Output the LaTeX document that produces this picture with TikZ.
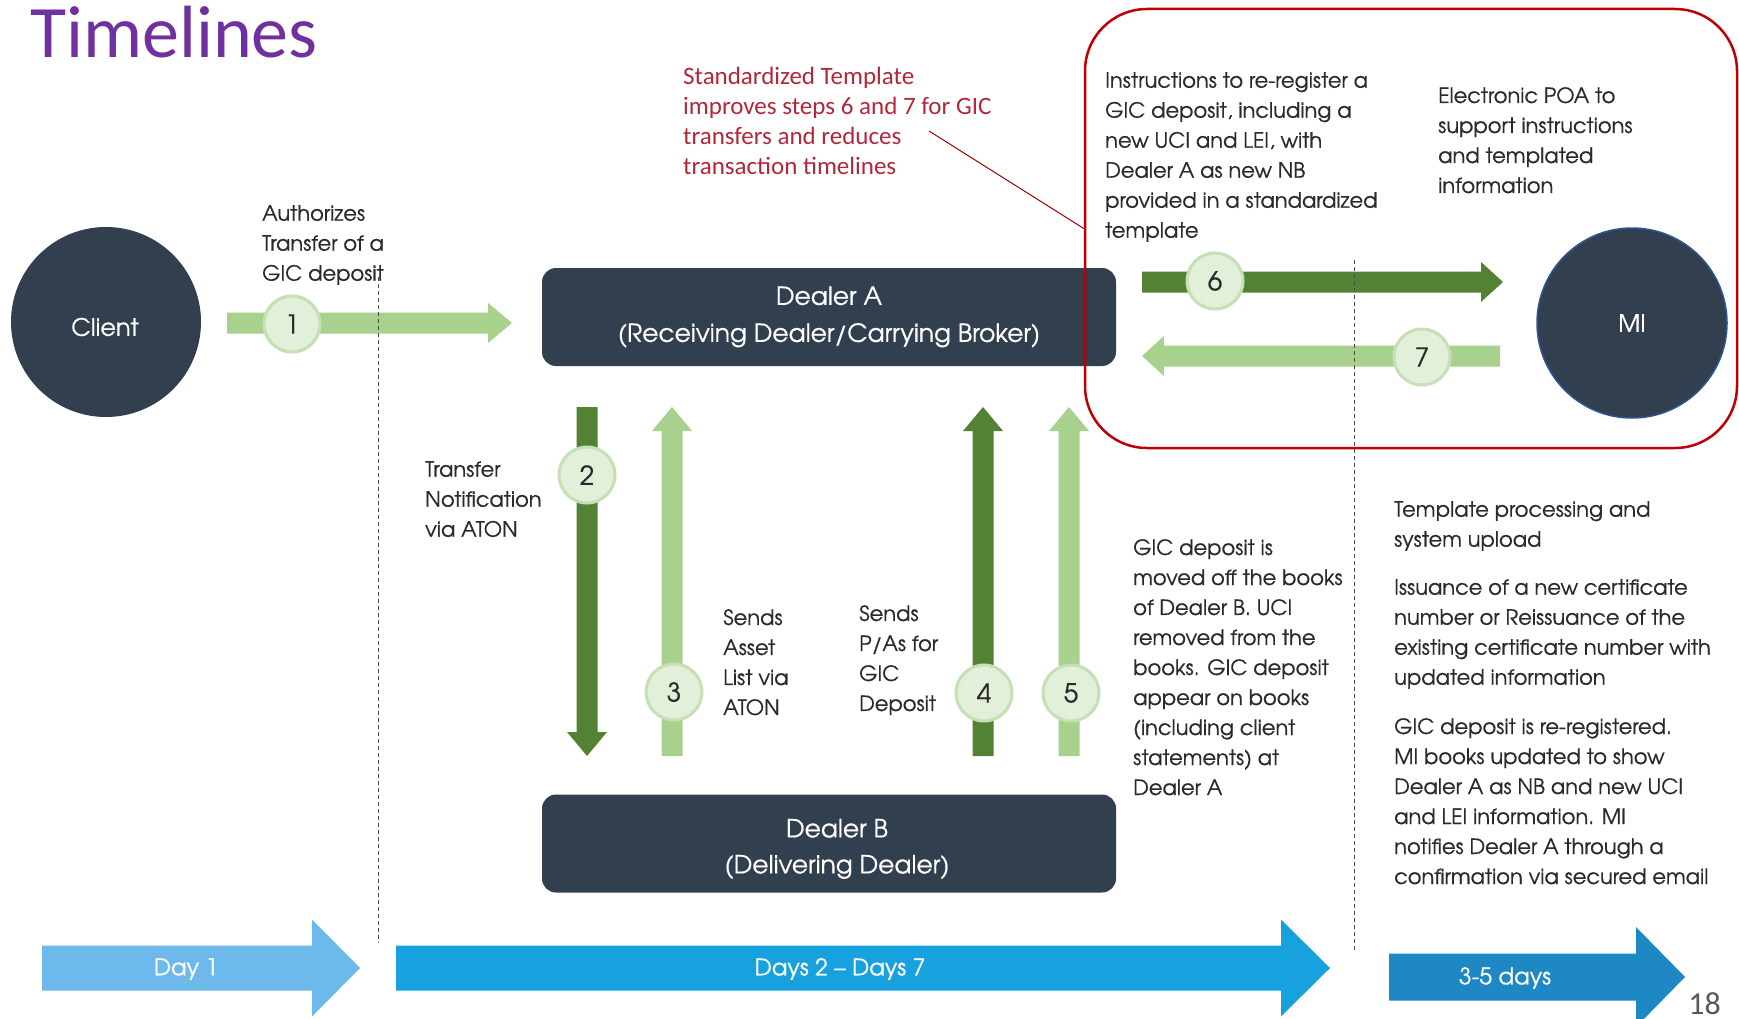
\documentclass[tikz,border=0pt]{standalone}
\usepackage{fontspec}
\setmainfont{texgyreadventor-regular.otf}[FakeBold=0.5]
\newfontfamily\calib{Carlito}
\usetikzlibrary{calc}
\definecolor{navy}{HTML}{323F4F}
\definecolor{dgreen}{HTML}{548235}
\definecolor{lgreen}{HTML}{A9D18E}
\definecolor{cfill}{HTML}{E2F0D9}
\definecolor{cline}{HTML}{C5E0B4}
\definecolor{redline}{HTML}{C00000}
\definecolor{redtext}{HTML}{B2283A}
\definecolor{purp}{HTML}{7030A0}
\definecolor{txt}{HTML}{2A2A2A}
\definecolor{blueA}{HTML}{6DB9EC}
\definecolor{blueB}{HTML}{17A2DF}
\definecolor{blueC}{HTML}{1E88C4}
\definecolor{miedge}{HTML}{2F5597}
\newcommand\HArrow[6]{\fill[#6] ($(#1)+(0,-#3)$) -- ($(#2)+(#5,-#3)$) -- ($(#2)+(#5,-#4)$) -- (#2) -- ($(#2)+(#5,#4)$) -- ($(#2)+(#5,#3)$) -- ($(#1)+(0,#3)$) -- cycle;}
\newcommand\VArrow[6]{\fill[#6] ($(#1)+(-#3,0)$) -- ($(#2)+(-#3,#5)$) -- ($(#2)+(-#4,#5)$) -- (#2) -- ($(#2)+(#4,#5)$) -- ($(#2)+(#3,#5)$) -- ($(#1)+(#3,0)$) -- cycle;}
\begin{document}
\begin{tikzpicture}[x=1pt,y=-1pt,
  body/.style={align=left, anchor=north west, inner sep=0pt, text=txt, font=\fontsize{21}{30}\selectfont},
  numc/.style={circle, fill=cfill, draw=cline, line width=3pt, minimum size=56pt, inner sep=0pt, font=\fontsize{26}{26}\selectfont, text=txt},
  dealer/.style={rectangle, rounded corners=14pt, fill=navy, text=white, align=center, minimum width=574pt, minimum height=98pt},
  party/.style={circle, fill=navy, text=white, minimum size=190pt, inner sep=0pt, font=\fontsize{24}{24}\selectfont},
  dline/.style={draw=black!70, line width=1pt, dash pattern=on 4pt off 3pt},
  daytext/.style={text=white, font=\fontsize{23}{23}\selectfont}
]
\useasboundingbox (0,0) rectangle (1739,1019);
\fill[white] (0,0) rectangle (1739,1019);

% title and note
\node[anchor=base west, inner sep=0pt, text=purp, font=\calib\fontsize{74}{74}\selectfont] (title) at (30,58) {Timelines};
\node[anchor=north west, inner sep=0pt, align=left, text=redtext, font=\calib\fontsize{25}{30}\selectfont] (note) at (683,67) {Standardized Template\\improves steps 6 and 7 for GIC\\transfers and reduces\\transaction timelines};

% parties
\node[party] (client) at (106,322) {};
\node[text=white, font=\fontsize{24}{24}\selectfont] (clientlbl) at (105,327) {Client};
\node[party, draw=miedge, line width=1.5pt] (mi) at (1632,323) {MI};
\node[dealer, font=\fontsize{25}{37}\selectfont] (dealerA) at (829,317) {Dealer A\\(Receiving Dealer/Carrying Broker)};
\node[dealer] (dealerB) at (829,843.5) {};
\node[text=white, align=center, font=\fontsize{25}{36}\selectfont] (dealerBlbl) at (837,849) {Dealer B\\(Delivering Dealer)};

% step arrows
\coordinate (a1s) at (227,323); \coordinate (a1e) at (512,323);
\HArrow{a1s}{a1e}{10.5}{20}{-24}{lgreen}
\coordinate (a2s) at (587,407); \coordinate (a2e) at (587,756);
\VArrow{a2s}{a2e}{10.5}{20}{-24}{dgreen}
\coordinate (a3s) at (672,756); \coordinate (a3e) at (672,407);
\VArrow{a3s}{a3e}{10.5}{20}{24}{lgreen}
\coordinate (a4s) at (983,756); \coordinate (a4e) at (983,407);
\VArrow{a4s}{a4e}{10.5}{20}{24}{dgreen}
\coordinate (a5s) at (1069,756); \coordinate (a5e) at (1069,407);
\VArrow{a5s}{a5e}{10.5}{20}{24}{lgreen}
\coordinate (a6s) at (1142,282); \coordinate (a6e) at (1503,282);
\HArrow{a6s}{a6e}{10.5}{20}{-22}{dgreen}
\coordinate (a7s) at (1500,356); \coordinate (a7e) at (1142,356);
\HArrow{a7s}{a7e}{10.5}{20}{22}{lgreen}

% timeline arrows
\coordinate (b1s) at (42,968); \coordinate (b1e) at (360,968);
\HArrow{b1s}{b1e}{22.5}{48.5}{-48}{blueA}
\coordinate (b2s) at (396,968); \coordinate (b2e) at (1330,968);
\HArrow{b2s}{b2e}{22.5}{48.5}{-49}{blueB}
\coordinate (b3s) at (1389,977); \coordinate (b3e) at (1685,977);
\HArrow{b3s}{b3e}{23.5}{50}{-49}{blueC}
\node[daytext] (day1) at (186,969) {Day 1};
\node[daytext] (day2) at (840,969) {Days 2 -- Days 7};
\node[daytext] (day3) at (1505,978) {3-5 days};

% dashed separators
\coordinate (d1t) at (378,277); \coordinate (d1b) at (378,943);
\draw[dline] (d1t) -- (d1b);
\coordinate (d2t) at (1354,260); \coordinate (d2b) at (1354,951);
\draw[dline] (d2t) -- (d2b);

% numbered circles
\node[numc] (n1) at (292,324) {1};
\node[numc] (n2) at (587,475) {2};
\node[numc] (n3) at (674,692) {3};
\node[numc] (n4) at (984,693) {4};
\node[numc] (n5) at (1071,693) {5};
\node[numc] (n6) at (1215,281) {6};
\node[numc] (n7) at (1422,357) {7};

% red highlight box and callout
\node[draw=redline, line width=2.5pt, rounded corners=62pt, minimum width=652pt, minimum height=439pt, inner sep=0pt] (redbox) at (1411,228.5) {};
\coordinate (cs) at (929,131);
\draw[redline!85!black, line width=1pt] (cs) -- (redbox.west);

% texts
\node[body] (t1) at (262,205) {Authorizes\\Transfer of a\\GIC deposit};
\node[body] (t2) at (425,461) {Transfer\\Notification\\via ATON};
\node[body] (t3) at (723,609) {Sends\\Asset\\List via\\ATON};
\node[body] (t4) at (859,605) {Sends\\P/As for\\GIC\\Deposit};
\node[body] (t5) at (1133,539) {GIC deposit is\\moved off the books\\of Dealer B. UCI\\removed from the\\books. GIC deposit\\appear on books\\(including client\\statements) at\\Dealer A};
\node[body] (t6) at (1105,72) {Instructions to re-register a\\GIC deposit, including a\\new UCI and LEI, with\\Dealer A as new NB\\provided in a standardized\\template};
\node[body] (t7) at (1438,87) {Electronic POA to\\support instructions\\and templated\\information};
\node[body] (t8) at (1394,501) {Template processing and\\system upload};
\node[body] (t9) at (1394,579) {Issuance of a new certificate\\number or Reissuance of the\\existing certificate number with\\updated information};
\node[body] (t10) at (1394,718) {GIC deposit is re-registered.\\MI books updated to show\\Dealer A as NB and new UCI\\and LEI information. MI\\notifies Dealer A through a\\confirmation via secured email};

\node[anchor=base east, inner sep=0pt, text=black!65, font=\calib\fontsize{32}{32}\selectfont] (page) at (1721,1014) {18};
\end{tikzpicture}
\end{document}
